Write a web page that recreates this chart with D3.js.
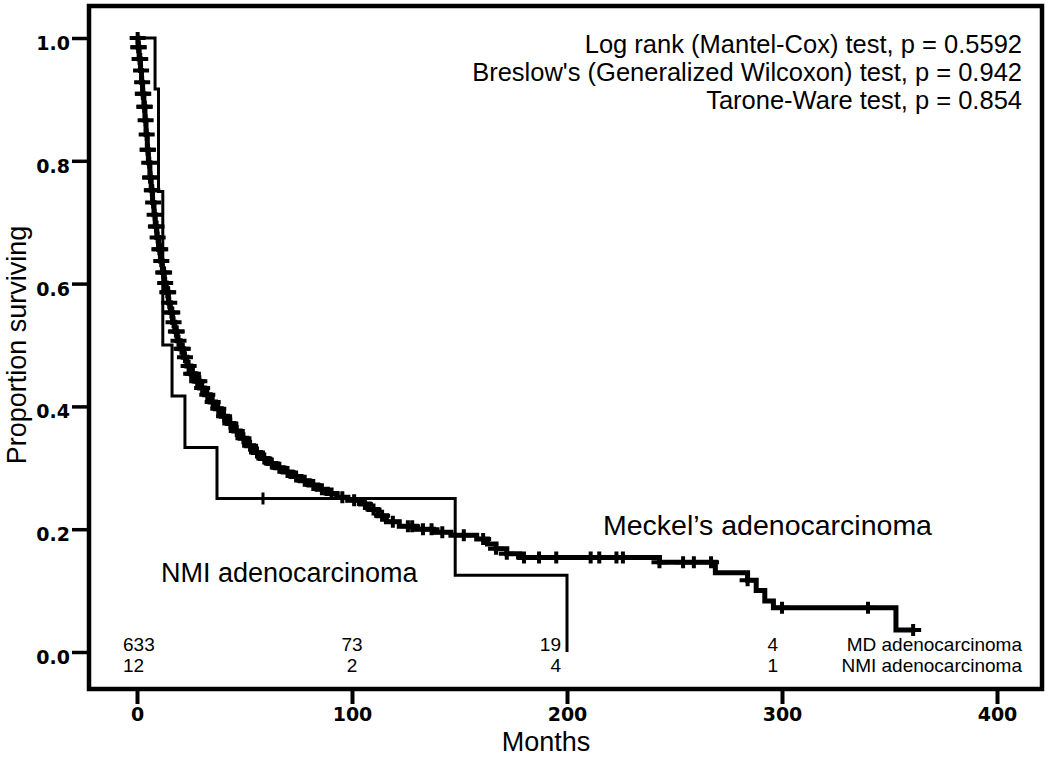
<!DOCTYPE html>
<html>
<head>
<meta charset="utf-8">
<script src="https://cdn.jsdelivr.net/npm/d3@7"></script>
<style>
  body { margin: 0; background: #fff; }
  svg text { font-family: "Liberation Sans", Arial, sans-serif; fill: #000; }
</style>
</head>
<body>
<div id="km_chart"></div>
<script>
// ---- data ----
const xTicks = [0, 100, 200, 300, 400];
const yTicks = [0, 0.2, 0.4, 0.6, 0.8, 1.0];

// Meckel's diverticulum adenocarcinoma: [months, proportion surviving]
const mdCurve = [
  [0, 1], [0.5, 0.985], [1, 0.966], [1.6, 0.947], [2.1, 0.928], [2.6, 0.909],
  [3.2, 0.888], [3.7, 0.866], [4.2, 0.843], [4.8, 0.818], [5.3, 0.797], [6, 0.773],
  [6.6, 0.752], [7.2, 0.732], [7.9, 0.712], [8.5, 0.693], [9.2, 0.675], [10, 0.656],
  [10.9, 0.637], [11.8, 0.618], [12.7, 0.601], [13.6, 0.586], [14.6, 0.569], [15.5, 0.553],
  [16.5, 0.537], [17.6, 0.522], [18.7, 0.507], [20, 0.494], [21.5, 0.48], [23.2, 0.466],
  [25, 0.453], [27, 0.441], [29.2, 0.43], [31.5, 0.419], [34, 0.407], [36.5, 0.396],
  [39.2, 0.384], [42, 0.372], [45, 0.36], [48, 0.348], [51, 0.336], [54.2, 0.325],
  [57.5, 0.315], [61, 0.307], [64.5, 0.3], [68, 0.293], [72, 0.286], [76, 0.279],
  [80, 0.272], [84, 0.265], [88.5, 0.258], [93, 0.252], [98, 0.247], [104, 0.241],
  [108, 0.232], [112, 0.222], [116, 0.212], [122, 0.205], [130, 0.2], [138, 0.195],
  [146, 0.19], [158, 0.184], [163, 0.176], [167, 0.168], [172, 0.16], [178, 0.154],
  [243, 0.146], [269, 0.129], [284, 0.117], [288, 0.1], [292, 0.083], [296, 0.072],
  [353, 0.036], [361, 0.036]
];
const mdCensor = [
  0.3, 0.6, 0.8, 1.2, 1.5, 1.9, 2.4, 2.7, 2.9, 3.4, 3.6, 4.0, 4.5, 4.9, 5.1, 5.7,
  6.1, 6.3, 6.9, 7.1, 7.5, 8.2, 8.8, 9.1, 9.6, 10.4, 10.8, 11.3, 12.2, 12.6, 13.1,
  14.1, 14.5, 15.0, 16.0, 16.4, 17.0, 18.1, 18.5, 19.3, 20.7, 21.3, 22.3, 24.0, 25.2,
  26.0, 28.0, 29.0, 30.3, 32.7, 35.2, 37.8, 40.5, 43.4, 46.4, 49.5, 52.6, 55.8, 59.2,
  62.7, 66.2, 70.0, 74.0, 78.0, 82.0, 86.0, 90.5, 95.5, 101, 106, 110, 114, 119, 126,
  128, 133, 137, 142, 152, 161, 167, 172, 180, 187, 195, 211, 215, 223, 226, 243,
  254, 259, 267, 284, 300, 340, 361
];

// non-Meckel ileal adenocarcinoma
const nmiCurve = [
  [0, 1], [8.4, 0.917], [10, 0.75], [12, 0.5], [16.3, 0.417], [22.3, 0.333],
  [37.2, 0.25], [148, 0.125], [200, 0]
];
const nmiCensor = [58.6];

// numbers at risk
const riskTimes = [0, 100, 200, 300];
const riskMD = [633, 73, 19, 4];
const riskNMI = [12, 2, 4, 1];

const testLines = [
  'Log rank (Mantel-Cox) test, p = 0.5592',
  "Breslow's (Generalized Wilcoxon) test, p = 0.942",
  'Tarone-Ware test, p = 0.854'
];

// ---- layout ----
const W = 1050, H = 766;
const frame = { left: 89, top: 6, right: 1042, bottom: 689 };

const svg = d3.select('#km_chart')
  .append('svg')
  .attr('width', W)
  .attr('height', H);

const x = d3.scaleLinear().domain([0, 400]).range([137, 997]);
const y = d3.scaleLinear().domain([0, 1]).range([652, 38]);

// axes (ticks outside the box)
const yAxis = svg.append('g')
  .attr('transform', `translate(${frame.left},0)`)
  .call(d3.axisLeft(y).tickValues(yTicks).tickFormat(d3.format('.1f')).tickSize(17).tickPadding(2));
yAxis.select('.domain').remove();
yAxis.selectAll('line').attr('stroke', '#000').attr('stroke-width', 3.5);
yAxis.selectAll('text')
  .attr('dy', '0.6em')
  .style('font-family', '"DejaVu Sans", sans-serif')
  .style('font-size', '19px')
  .style('font-weight', 'bold');

const xAxis = svg.append('g')
  .attr('transform', `translate(0,${frame.bottom})`)
  .call(d3.axisBottom(x).tickValues(xTicks).tickSize(15).tickPadding(4));
xAxis.select('.domain').remove();
xAxis.selectAll('line').attr('stroke', '#000').attr('stroke-width', 4);
xAxis.selectAll('text')
  .style('font-family', '"DejaVu Sans", sans-serif')
  .style('font-size', '19px')
  .style('font-weight', 'bold');

// box around the plot
svg.append('rect')
  .attr('x', frame.left)
  .attr('y', frame.top)
  .attr('width', frame.right - frame.left)
  .attr('height', frame.bottom - frame.top)
  .attr('fill', 'none')
  .attr('stroke', '#000')
  .attr('stroke-width', 4.5);

// axis titles
svg.append('text')
  .attr('x', 546)
  .attr('y', 751)
  .attr('text-anchor', 'middle')
  .style('font-size', '27px')
  .text('Months');

svg.append('text')
  .attr('transform', 'translate(26,345) rotate(-90)')
  .attr('text-anchor', 'middle')
  .style('font-size', '27px')
  .text('Proportion surviving');

// step curves
const stepLine = d3.line()
  .x(d => x(d[0]))
  .y(d => y(d[1]))
  .curve(d3.curveStepAfter);

svg.append('path')
  .datum(nmiCurve)
  .attr('d', stepLine)
  .attr('fill', 'none')
  .attr('stroke', '#000')
  .attr('stroke-width', 3);

svg.append('path')
  .datum(mdCurve)
  .attr('d', stepLine)
  .attr('fill', 'none')
  .attr('stroke', '#000')
  .attr('stroke-width', 5);

// survival value at time t for a step curve
const survAt = (curve, t) => {
  const i = d3.bisectRight(curve.map(d => d[0]), t) - 1;
  return curve[Math.max(0, i)][1];
};

// censor marks as "+"
const drawCensor = (times, curve, hw, hh, sw) => {
  const g = svg.append('g').attr('stroke', '#000').attr('stroke-width', sw);
  g.selectAll('path')
    .data(times)
    .join('path')
    .attr('d', t => {
      const cx = x(t), cy = y(survAt(curve, t));
      return `M${cx - hw},${cy}H${cx + hw}M${cx},${cy - hh}V${cy + hh}`;
    });
};
drawCensor(mdCensor, mdCurve, 8, 6, 4);
drawCensor(nmiCensor, nmiCurve, 4, 6, 3);

// test statistics
svg.append('g')
  .selectAll('text')
  .data(testLines)
  .join('text')
  .attr('x', 1022)
  .attr('y', (d, i) => 53 + i * 28)
  .attr('text-anchor', 'end')
  .style('font-size', '25.5px')
  .text(d => d);

// curve labels
svg.append('text')
  .attr('x', 603)
  .attr('y', 535)
  .style('font-size', '28.5px')
  .text('Meckel\u2019s adenocarcinoma');

svg.append('text')
  .attr('x', 161)
  .attr('y', 582)
  .style('font-size', '27px')
  .text('NMI adenocarcinoma');

// numbers at risk
const riskAnchor = ['start', 'middle', 'end', 'end'];
const riskShift = [-14, 0, -6, -4];
const riskRows = [
  { values: riskMD, label: 'MD adenocarcinoma', y: 651 },
  { values: riskNMI, label: 'NMI adenocarcinoma', y: 672 }
];
riskRows.forEach(row => {
  const g = svg.append('g').style('font-size', '19px');
  g.selectAll('text.n')
    .data(row.values)
    .join('text')
    .attr('class', 'n')
    .attr('x', (d, i) => x(riskTimes[i]) + riskShift[i])
    .attr('y', row.y)
    .attr('text-anchor', (d, i) => riskAnchor[i])
    .text(d => d);
  g.append('text')
    .attr('x', 1022)
    .attr('y', row.y)
    .attr('text-anchor', 'end')
    .text(row.label);
});
</script>
</body>
</html>
